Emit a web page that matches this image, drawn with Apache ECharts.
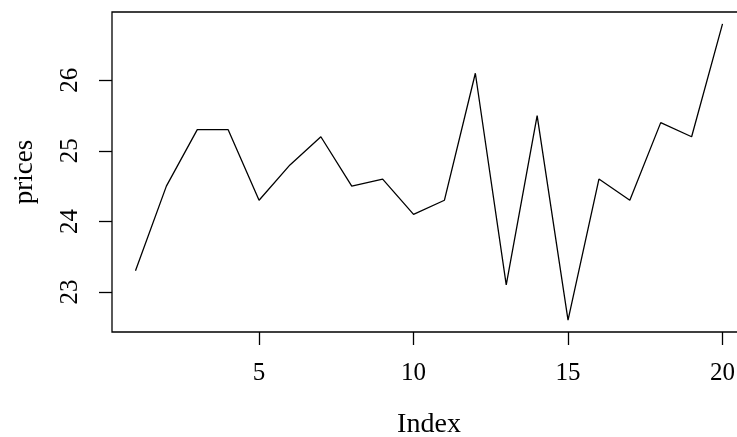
<!DOCTYPE html>
<html>
<head>
<meta charset="utf-8">
<script src="https://cdn.jsdelivr.net/npm/echarts@6/dist/echarts.min.js"></script>
<style>
html,body{margin:0;padding:0;background:#fff;}
#chart{width:737px;height:437px;}
</style>
</head>
<body>
<div id="chart"></div>
<script>
const indexValues = [1, 2, 3, 4, 5, 6, 7, 8, 9, 10, 11, 12, 13, 14, 15, 16, 17, 18, 19, 20];
const prices = [23.3, 24.5, 25.3, 25.3, 24.3, 24.8, 25.2, 24.5, 24.6, 24.1, 24.3, 26.1, 23.1, 25.5, 22.6, 24.6, 24.3, 25.4, 25.2, 26.8];
const xTicks = [5, 10, 15, 20];
const yTicks = [23, 24, 25, 26];

const FONT = "'Liberation Serif', 'DejaVu Serif', serif";
const chart = echarts.init(document.getElementById('chart'), null, {renderer: 'canvas'});
chart.setOption({
  animation: false,
  backgroundColor: '#fff',
  grid: {
    left: 112, top: 12, width: 634, height: 320,
    containLabel: false, outerBoundsMode: 'none',
    show: true, borderColor: '#000', borderWidth: 1.3, backgroundColor: 'transparent'
  },
  xAxis: {
    type: 'value', min: 0.24, max: 20.76,
    name: 'Index', nameLocation: 'middle', nameGap: 79,
    nameTextStyle: {fontFamily: FONT, fontSize: 28, color: '#000'},
    axisLine: {show: false},
    splitLine: {show: false},
    axisTick: {show: true, customValues: xTicks, length: 13, lineStyle: {color: '#000', width: 1.3}},
    axisLabel: {customValues: xTicks, fontFamily: FONT, fontSize: 25, color: '#000', margin: 29}
  },
  yAxis: {
    type: 'value', min: 22.432, max: 26.968,
    name: 'prices', nameLocation: 'middle', nameGap: 74, nameRotate: 90,
    nameTextStyle: {fontFamily: FONT, fontSize: 27, color: '#000'},
    axisLine: {show: false},
    splitLine: {show: false},
    axisTick: {show: true, customValues: yTicks, length: 13, lineStyle: {color: '#000', width: 1.3}},
    axisLabel: {customValues: yTicks, rotate: 90, fontFamily: FONT, fontSize: 25, color: '#000', margin: 29}
  },
  series: [{
    type: 'line',
    data: indexValues.map((x, i) => [x, prices[i]]),
    showSymbol: false,
    lineStyle: {color: '#000', width: 1.3}
  }]
});
</script>
</body>
</html>
